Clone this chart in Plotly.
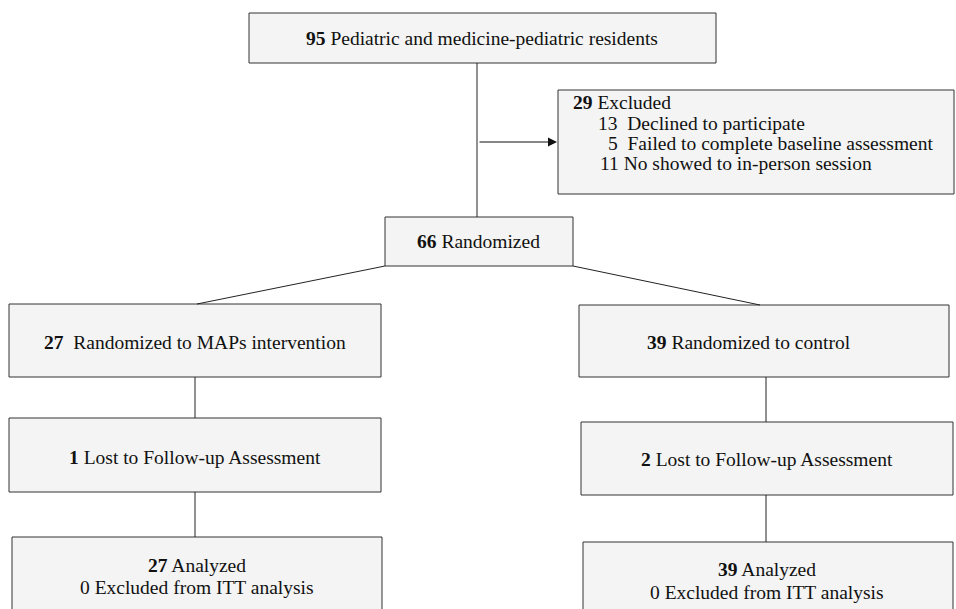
import plotly.graph_objects as go

# ---- data (CONSORT flow) ----
screened_n = 95
screened_label = "Pediatric and medicine-pediatric residents"
excluded_n = 29
excluded_label = "Excluded"
excluded_counts = [13, 5, 11]
excluded_reasons = ["Declined to participate",
                    "Failed to complete baseline assessment",
                    "No showed to in-person session"]
randomized_n = 66
arm_names = ["MAPs intervention", "control"]
arm_n = [27, 39]
lost_n = [1, 2]
analyzed_n = [27, 39]
itt_excluded_n = [0, 0]

# ---- layout geometry (page pixel coordinates, y downward) ----
W, H = 956, 609
FILL = "#f3f4f3"
EDGE = "#333333"
FONT = "Liberation Serif, Times New Roman, serif"
FS = 19.5

boxes = {
    "screen": (249, 13, 716, 63),
    "excl": (558, 90, 954, 194),
    "rand": (385, 217, 573, 266),
    "armL": (9, 304, 381, 377),
    "armR": (579, 305, 949, 377),
    "lostL": (9, 418, 381, 492),
    "lostR": (581, 422, 953, 495),
    "anaL": (12, 537, 382, 640),
    "anaR": (583, 542, 953, 640),
}

lines = [
    ((477, 63), (477, 217)),
    ((385, 266), (197, 304)),
    ((573, 266), (760, 305)),
    ((195, 377), (195, 418)),
    ((766, 377), (766, 422)),
    ((195, 492), (195, 537)),
    ((766, 495), (766, 542)),
]

fig = go.Figure()
fig.add_trace(go.Scatter(x=[0, W], y=[0, H], mode="markers",
                         marker=dict(opacity=0), hoverinfo="skip", showlegend=False))

shapes = []
for (x0, y0, x1, y1) in boxes.values():
    shapes.append(dict(type="rect", xref="x", yref="y", x0=x0, y0=y0, x1=x1, y1=y1,
                       fillcolor=FILL, line=dict(color=EDGE, width=1), layer="below"))
for (p0, p1) in lines:
    shapes.append(dict(type="line", xref="x", yref="y", x0=p0[0], y0=p0[1],
                       x1=p1[0], y1=p1[1], line=dict(color="#222222", width=1)))

ann = []

def txt(x, y, s, xanchor="center"):
    ann.append(dict(x=x, y=y, xref="x", yref="y", text=s, showarrow=False,
                    xanchor=xanchor, yanchor="middle",
                    font=dict(family=FONT, size=FS, color="#111111")))

txt(482, 38, f"<b>{screened_n}</b> {screened_label}")
txt(571, 102, f"<b>{excluded_n}</b> {excluded_label}", "left")
reason_x = [596, 606, 598]
reason_y = [123, 143, 163]
for c, r, rx, ry in zip(excluded_counts, excluded_reasons, reason_x, reason_y):
    txt(rx, ry, f"{c}{'&nbsp;&nbsp;' if c != 11 else '&nbsp;'}{r}", "left")
txt(478, 241, f"<b>{randomized_n}</b> Randomized")
txt(195, 342, f"<b>{arm_n[0]}</b>&nbsp;&nbsp;Randomized to {arm_names[0]}")
txt(749, 342, f"<b>{arm_n[1]}</b> Randomized to {arm_names[1]}")
txt(195, 457, f"<b>{lost_n[0]}</b> Lost to Follow-up Assessment")
txt(767, 459, f"<b>{lost_n[1]}</b> Lost to Follow-up Assessment")
txt(197, 565, f"<b>{analyzed_n[0]}</b> Analyzed")
txt(197, 587, f"{itt_excluded_n[0]} Excluded from ITT analysis")
txt(767, 569, f"<b>{analyzed_n[1]}</b> Analyzed")
txt(767, 592, f"{itt_excluded_n[1]} Excluded from ITT analysis")

# arrow to excluded box
ann.append(dict(x=557, y=142, ax=478, ay=142, xref="x", yref="y", axref="x", ayref="y",
                text="", showarrow=True, arrowhead=2, arrowsize=1.8, arrowwidth=1,
                arrowcolor="#111111"))

fig.update_layout(
    width=W, height=H, margin=dict(l=0, r=0, t=0, b=0),
    paper_bgcolor="white", plot_bgcolor="white",
    xaxis=dict(range=[0, W], visible=False, fixedrange=True),
    yaxis=dict(range=[H, 0], visible=False, fixedrange=True),
    shapes=shapes, annotations=ann, showlegend=False,
)
fig.write_html("out.html", config={"displayModeBar": False},
               post_script="document.body.style.margin='0';document.body.style.overflow='hidden';")
